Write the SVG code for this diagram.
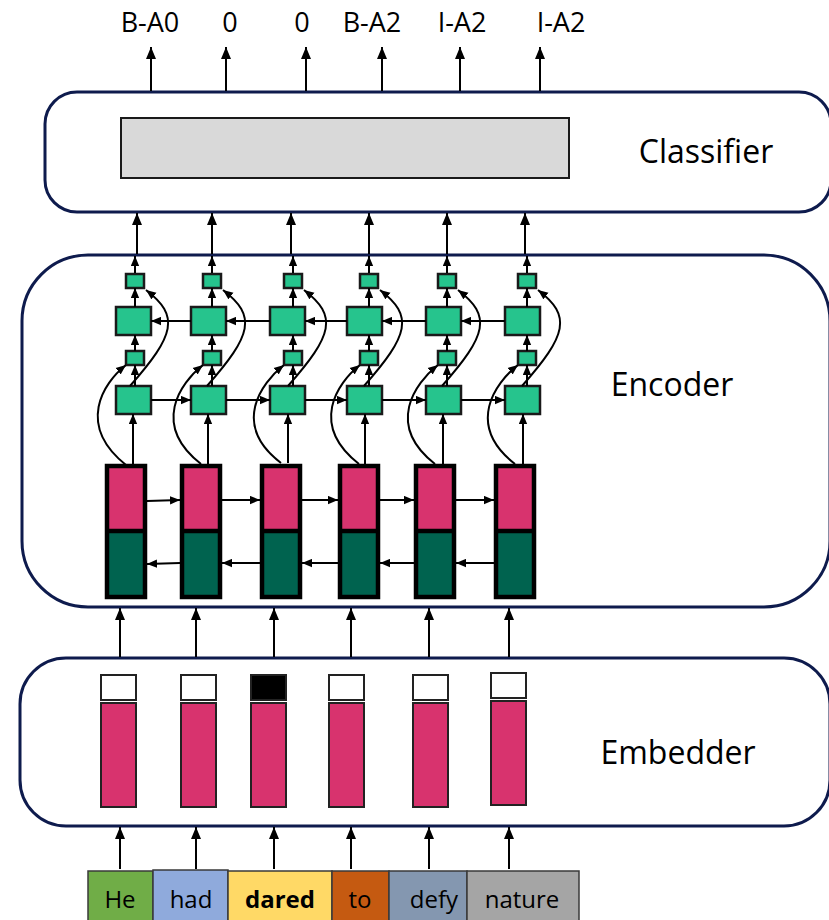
<svg xmlns="http://www.w3.org/2000/svg" width="829" height="920" viewBox="0 0 829 920">
<style>
.frame{fill:#fff;stroke:#0E1B4D;stroke-width:3}
.ln{fill:none;stroke:#000;stroke-width:2}
.a{marker-end:url(#ah)}
.as{marker-end:url(#ahs)}
.sq{fill:#26C48D;stroke:#1a1a1a;stroke-width:2.5}
.pk{fill:#D8336E}
.dg{fill:#00634F}
.lo{fill:none;stroke:#000;stroke-width:4.5}
.ev{stroke:#222;stroke-width:2}
.t{font-family:"Open Sans","Liberation Sans",sans-serif;fill:#000}
.lbl{font-size:27px;text-anchor:middle}
.big{font-size:32px;text-anchor:middle}
.w{font-size:24px;text-anchor:middle}
.wb{stroke:#3a3a3a;stroke-width:1.5}
</style>
<defs>
<marker id="ah" viewBox="0 0 12 10" refX="12" refY="5" markerWidth="12" markerHeight="10" markerUnits="userSpaceOnUse" orient="auto"><path d="M0,0L12,5L0,10z" fill="#000"/></marker>
<marker id="ahs" viewBox="0 0 12 10" refX="12" refY="5" markerWidth="10" markerHeight="9" markerUnits="userSpaceOnUse" orient="auto"><path d="M0,0L12,5L0,10z" fill="#000"/></marker>
</defs>

<g id="outputs">
<text class="t lbl" x="150" y="32">B-A0</text>
<text class="t lbl" x="230" y="32">0</text>
<text class="t lbl" x="302" y="32">0</text>
<text class="t lbl" x="372" y="32">B-A2</text>
<text class="t lbl" x="462" y="32">I-A2</text>
<text class="t lbl" x="561" y="32">I-A2</text>
</g>

<g id="classifier">
<rect class="frame" x="45" y="92" width="786" height="120" rx="32"/>
<rect x="121" y="118" width="448" height="60" fill="#D9D9D9" stroke="#1a1a1a" stroke-width="2"/>
<text class="t big" x="706" y="163">Classifier</text>
</g>

<g id="encoder">
<rect class="frame" x="22" y="255" width="808" height="352" rx="66"/>
<text class="t big" x="672" y="396">Encoder</text>
<g id="lstm">
<rect class="pk" x="107" y="466" width="38" height="65"/><rect class="dg" x="107" y="531" width="38" height="66"/><rect class="lo" x="107" y="466" width="38" height="131"/><line class="lo" x1="107" y1="531" x2="145" y2="531"/>
<rect class="pk" x="182" y="466" width="38" height="65"/><rect class="dg" x="182" y="531" width="38" height="66"/><rect class="lo" x="182" y="466" width="38" height="131"/><line class="lo" x1="182" y1="531" x2="220" y2="531"/>
<rect class="pk" x="262" y="466" width="38" height="65"/><rect class="dg" x="262" y="531" width="38" height="66"/><rect class="lo" x="262" y="466" width="38" height="131"/><line class="lo" x1="262" y1="531" x2="300" y2="531"/>
<rect class="pk" x="340" y="466" width="38" height="65"/><rect class="dg" x="340" y="531" width="38" height="66"/><rect class="lo" x="340" y="466" width="38" height="131"/><line class="lo" x1="340" y1="531" x2="378" y2="531"/>
<rect class="pk" x="416" y="466" width="38" height="65"/><rect class="dg" x="416" y="531" width="38" height="66"/><rect class="lo" x="416" y="466" width="38" height="131"/><line class="lo" x1="416" y1="531" x2="454" y2="531"/>
<rect class="pk" x="496" y="466" width="38" height="65"/><rect class="dg" x="496" y="531" width="38" height="66"/><rect class="lo" x="496" y="466" width="38" height="131"/><line class="lo" x1="496" y1="531" x2="534" y2="531"/>
</g>
<g id="cells">
<rect class="sq" x="116" y="386" width="35" height="28"/><rect class="sq" x="191" y="386" width="35" height="28"/><rect class="sq" x="270" y="386" width="35" height="28"/><rect class="sq" x="347" y="386" width="35" height="28"/><rect class="sq" x="426" y="386" width="35" height="28"/><rect class="sq" x="505" y="386" width="35" height="28"/>
<rect class="sq" x="116" y="307" width="35" height="28"/><rect class="sq" x="191" y="307" width="35" height="28"/><rect class="sq" x="270" y="307" width="35" height="28"/><rect class="sq" x="347" y="307" width="35" height="28"/><rect class="sq" x="426" y="307" width="35" height="28"/><rect class="sq" x="505" y="307" width="35" height="28"/>
<rect class="sq" x="126" y="351" width="18" height="14"/><rect class="sq" x="203" y="351" width="18" height="14"/><rect class="sq" x="284" y="351" width="18" height="14"/><rect class="sq" x="360" y="351" width="18" height="14"/><rect class="sq" x="438" y="351" width="18" height="14"/><rect class="sq" x="518" y="351" width="18" height="14"/>
<rect class="sq" x="126" y="274" width="18" height="14"/><rect class="sq" x="203" y="274" width="18" height="14"/><rect class="sq" x="284" y="274" width="18" height="14"/><rect class="sq" x="360" y="274" width="18" height="14"/><rect class="sq" x="438" y="274" width="18" height="14"/><rect class="sq" x="518" y="274" width="18" height="14"/>
</g>
</g>

<g id="embedder">
<rect class="frame" x="20" y="658" width="810" height="168" rx="46"/>
<text class="t big" x="678" y="764">Embedder</text>
<rect class="ev" fill="#fff" x="101" y="675" width="35" height="25"/><rect class="ev pk" x="101" y="703" width="35" height="104"/>
<rect class="ev" fill="#fff" x="181" y="675" width="35" height="25"/><rect class="ev pk" x="181" y="703" width="35" height="104"/>
<rect class="ev" fill="#000" x="251" y="675" width="35" height="25"/><rect class="ev pk" x="251" y="703" width="35" height="104"/>
<rect class="ev" fill="#fff" x="329" y="675" width="35" height="25"/><rect class="ev pk" x="329" y="703" width="35" height="104"/>
<rect class="ev" fill="#fff" x="413" y="675" width="35" height="25"/><rect class="ev pk" x="413" y="703" width="35" height="104"/>
<rect class="ev" fill="#fff" x="491" y="673" width="35" height="25"/><rect class="ev pk" x="491" y="701" width="35" height="104"/>
</g>

<g id="words">
<rect class="wb" fill="#70AD47" x="88" y="871" width="65" height="55"/>
<rect class="wb" fill="#8FAADC" x="153" y="870" width="75" height="56"/>
<rect class="wb" fill="#FFD966" x="228" y="871" width="104" height="55"/>
<rect class="wb" fill="#C55A11" x="332" y="871" width="57" height="55"/>
<rect class="wb" fill="#8497B0" x="389" y="871" width="78" height="55"/>
<rect class="wb" fill="#A5A5A5" x="467" y="871" width="112" height="55"/>
<text class="t w" x="120" y="908">He</text>
<text class="t w" x="191" y="908">had</text>
<text class="t w" x="280" y="908" font-weight="bold">dared</text>
<text class="t w" x="360" y="908">to</text>
<text class="t w" x="434" y="908">defy</text>
<text class="t w" x="522" y="908">nature</text>
</g>

<g id="connectors">
<g class="ln a">
<line x1="151" y1="91" x2="151" y2="47"/><line x1="226" y1="91" x2="226" y2="47"/><line x1="306" y1="91" x2="306" y2="47"/><line x1="382" y1="91" x2="382" y2="47"/><line x1="460" y1="91" x2="460" y2="47"/><line x1="540" y1="91" x2="540" y2="47"/>
<line x1="137" y1="254" x2="137" y2="213"/><line x1="212" y1="254" x2="212" y2="213"/><line x1="291" y1="254" x2="291" y2="213"/><line x1="369" y1="254" x2="369" y2="213"/><line x1="447" y1="254" x2="447" y2="213"/><line x1="525" y1="254" x2="525" y2="213"/>
<line x1="120" y1="657" x2="120" y2="608"/><line x1="196" y1="657" x2="196" y2="608"/><line x1="274" y1="657" x2="274" y2="608"/><line x1="351" y1="657" x2="351" y2="608"/><line x1="429" y1="657" x2="429" y2="608"/><line x1="509" y1="657" x2="509" y2="608"/>
<line x1="120" y1="869" x2="120" y2="827"/><line x1="196" y1="869" x2="196" y2="827"/><line x1="274" y1="869" x2="274" y2="827"/><line x1="351" y1="869" x2="351" y2="827"/><line x1="429" y1="869" x2="429" y2="827"/><line x1="509" y1="869" x2="509" y2="827"/>
</g>
<g class="ln as">
<line x1="135" y1="273" x2="135" y2="256"/><line x1="212" y1="273" x2="212" y2="256"/><line x1="293" y1="273" x2="293" y2="256"/><line x1="369" y1="273" x2="369" y2="256"/><line x1="447" y1="273" x2="447" y2="256"/><line x1="527" y1="273" x2="527" y2="256"/>
<line x1="135" y1="307" x2="135" y2="288"/><line x1="212" y1="307" x2="212" y2="288"/><line x1="293" y1="307" x2="293" y2="288"/><line x1="369" y1="307" x2="369" y2="288"/><line x1="447" y1="307" x2="447" y2="288"/><line x1="527" y1="307" x2="527" y2="288"/>
<line x1="135" y1="351" x2="135" y2="335"/><line x1="212" y1="351" x2="212" y2="335"/><line x1="293" y1="351" x2="293" y2="335"/><line x1="369" y1="351" x2="369" y2="335"/><line x1="447" y1="351" x2="447" y2="335"/><line x1="527" y1="351" x2="527" y2="335"/>
<line x1="135" y1="386" x2="135" y2="365"/><line x1="212" y1="386" x2="212" y2="365"/><line x1="293" y1="386" x2="293" y2="365"/><line x1="369" y1="386" x2="369" y2="365"/><line x1="447" y1="386" x2="447" y2="365"/><line x1="527" y1="386" x2="527" y2="365"/>
<line x1="133" y1="464" x2="133" y2="414"/><line x1="208" y1="464" x2="208" y2="414"/><line x1="288" y1="463" x2="288" y2="414"/><line x1="365" y1="464" x2="365" y2="414"/><line x1="443" y1="464" x2="443" y2="414"/><line x1="523" y1="464" x2="523" y2="414"/>
<line x1="151" y1="400" x2="191" y2="400"/><line x1="226" y1="400" x2="270" y2="400"/><line x1="305" y1="400" x2="347" y2="400"/><line x1="382" y1="400" x2="426" y2="400"/><line x1="461" y1="400" x2="505" y2="400"/>
<line x1="191" y1="321" x2="151" y2="321"/><line x1="270" y1="321" x2="226" y2="321"/><line x1="347" y1="321" x2="305" y2="321"/><line x1="426" y1="321" x2="382" y2="321"/><line x1="505" y1="321" x2="461" y2="321"/>
<line x1="147" y1="501" x2="180" y2="500"/><line x1="222" y1="500" x2="260" y2="500"/><line x1="302" y1="500" x2="338" y2="500"/><line x1="380" y1="500" x2="414" y2="500"/><line x1="456" y1="500" x2="494" y2="500"/>
<line x1="180" y1="563" x2="147" y2="564"/><line x1="260" y1="563" x2="222" y2="563"/><line x1="338" y1="563" x2="302" y2="563"/><line x1="414" y1="563" x2="380" y2="563"/><line x1="494" y1="563" x2="456" y2="563"/>
<path d="M126,465C76,425 103,383 126,365"/>
<path d="M201,464C151,425 180,383 203,365"/>
<path d="M281,463C231,425 261,383 284,365"/>
<path d="M359,464C309,425 337,383 360,365"/>
<path d="M435,464C385,425 415,383 438,365"/>
<path d="M515,464C465,425 495,383 518,365"/>
<path d="M130,386C175,335 180,316 146,290"/>
<path d="M207,386C252,335 257,316 223,290"/>
<path d="M288,386C333,335 338,316 304,290"/>
<path d="M364,386C409,335 414,316 380,290"/>
<path d="M442,386C487,335 492,316 458,290"/>
<path d="M522,386C567,335 572,316 538,290"/>
</g>
</g>
</svg>
